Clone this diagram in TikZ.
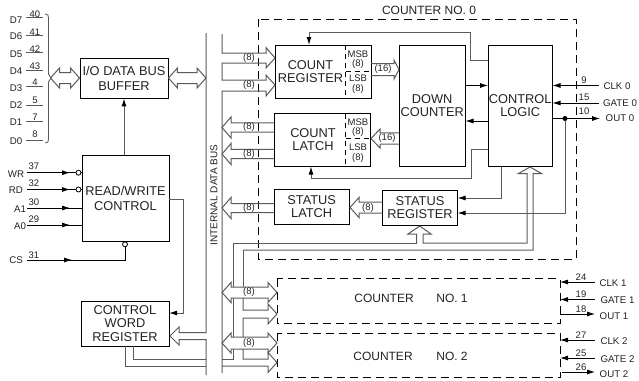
\documentclass[tikz,border=0pt]{standalone}
\usepackage{fontspec}
\setmainfont{Liberation Sans}
\usetikzlibrary{calc,arrows.meta}
\definecolor{busgray}{HTML}{5A5A5A}
\definecolor{ink}{HTML}{222222}
\tikzset{
 blk/.style={draw=black,line width=0.9pt,rectangle,inner sep=0pt,align=center,font=\fontsize{12.8}{13.5}\selectfont,text=ink},
 dbox/.style={draw=black,line width=0.9pt,dash pattern=on 8pt off 5pt},
 inner/.style={draw=black,line width=0.8pt,dash pattern=on 5pt off 4pt},
 bus/.style={draw=busgray,line width=1pt,line join=miter},
 sig/.style={draw=black,line width=0.8pt},
 tip/.style={-{Latex[length=8pt,width=5pt]},shorten >=0pt},
 mid/.style={inner sep=0pt,font=\fontsize{9.5}{10}\selectfont,text=ink},
 wid/.style={inner sep=0pt,font=\fontsize{9.5}{10}\selectfont,text=ink},
 pin/.style={inner sep=0pt,font=\fontsize{9.7}{10}\selectfont,text=ink},
 num/.style={inner sep=0pt,font=\fontsize{9.5}{10}\selectfont,text=ink},
 big/.style={inner sep=0pt,align=center,font=\fontsize{12}{13}\selectfont,text=ink},
 bubble/.style={circle,draw=black,line width=0.8pt,fill=white,inner sep=0pt,minimum size=5pt},
 dotn/.style={circle,fill=black,inner sep=0pt,minimum size=5pt},
}
% hollow arrow: open end #1, tip #2, half body #3, half head #4
\newcommand\holl[4]{%
 \draw[bus] ($(#1)!#3!-90:(#2)$) -- ($($(#2)!9pt!(#1)$)!#3!-90:(#2)$) -- ($($(#2)!9pt!(#1)$)!#4!-90:(#2)$) -- (#2)
  -- ($($(#2)!9pt!(#1)$)!#4!90:(#2)$) -- ($($(#2)!9pt!(#1)$)!#3!90:(#2)$) -- ($(#1)!#3!90:(#2)$);}
% hollow double arrow: tips #1 and #2
\newcommand\hollb[4]{%
 \draw[bus] (#1) -- ($($(#1)!9pt!(#2)$)!#4!90:(#2)$) -- ($($(#1)!9pt!(#2)$)!#3!90:(#2)$)
  -- ($($(#2)!9pt!(#1)$)!#3!-90:(#1)$) -- ($($(#2)!9pt!(#1)$)!#4!-90:(#1)$) -- (#2)
  -- ($($(#2)!9pt!(#1)$)!#4!90:(#1)$) -- ($($(#2)!9pt!(#1)$)!#3!90:(#1)$)
  -- ($($(#1)!9pt!(#2)$)!#3!-90:(#2)$) -- ($($(#1)!9pt!(#2)$)!#4!-90:(#2)$) -- cycle;}
\begin{document}
\begin{tikzpicture}[x=1pt,y=-1pt]
\useasboundingbox (0,0) rectangle (639,380);
% blocks
\node[blk,minimum width=88pt,minimum height=40pt] (iob) at (124,78) {I/O DATA BUS\\[1.5pt]BUFFER};
\node[blk,minimum width=87pt,minimum height=86pt] (rw) at (125.5,198) {READ/WRITE\\[1.5pt]CONTROL};
\node[blk,minimum width=88pt,minimum height=45pt] (cw) at (125,323.5) {CONTROL\\WORD\\REGISTER};
\node[blk,minimum width=96pt,minimum height=53pt,text width=70pt] (cr) at (323,71.5) {};
\node[big,font=\fontsize{12.8}{13.5}\selectfont] at (310.5,71.5) {COUNT\\REGISTER};
\node[blk,minimum width=96.5pt,minimum height=52.5pt] (cl) at (322.3,139.7) {};
\node[big,font=\fontsize{12.8}{13.5}\selectfont] at (313,139.5) {COUNT\\LATCH};
\node[blk,minimum width=66.5pt,minimum height=121pt] (dc) at (432.2,105.5) {DOWN\\COUNTER};
\node[blk,minimum width=64.5pt,minimum height=121.5pt] (cl0) at (520.2,105.7) {CONTROL\\LOGIC};
\node[blk,minimum width=75.5pt,minimum height=35pt] (sl) at (311.7,206.5) {STATUS\\LATCH};
\node[blk,minimum width=75pt,minimum height=34.5pt] (sr) at (420,207.7) {STATUS\\REGISTER};
% dashed frames
\coordinate (f0a) at (258,19); \coordinate (f0b) at (576,259);
\draw[dbox] (f0a) rectangle (f0b);
\node[big] (t0) at (429,10) {COUNTER NO. 0};
\coordinate (f1a) at (277,278.5); \coordinate (f1b) at (560,323.5);
\draw[dbox] (f1a) rectangle (f1b);
\coordinate (f2a) at (277,333); \coordinate (f2b) at (560,377.5);
\draw[dbox] (f2a) rectangle (f2b);
\node[big] (c1) at (384,298) {COUNTER};
\node[big] (n1) at (452,298) {NO. 1};
\node[big] (c2) at (383,356) {COUNTER};
\node[big] (n2) at (452,356) {NO. 2};
% register dividers
\coordinate (d1) at (345.5,45); \coordinate (d2) at (345.5,98); \coordinate (d3) at (345.5,71); \coordinate (d4) at (371,71);
\draw[inner] (d1) -- (d2); \draw[inner] (d3) -- (d4);
\coordinate (e1) at (345.5,113.5); \coordinate (e2) at (345.5,166); \coordinate (e3) at (345.5,138); \coordinate (e4) at (370.5,138);
\draw[inner] (e1) -- (e2); \draw[inner] (e3) -- (e4);
\node[mid] (m1) at (358,54) {MSB}; \node[mid] (m2) at (358,64) {(8)};
\node[mid] (m3) at (358,78.5) {LSB}; \node[mid] (m4) at (358,89) {(8)};
\node[mid] (m5) at (358,122) {MSB}; \node[mid] (m6) at (358,132) {(8)};
\node[mid] (m7) at (358,147) {LSB}; \node[mid] (m8) at (358,158) {(8)};
% data pins
\foreach \n/\lab/\num/\yl/\yn/\yy in {a/D7/40/20/14/17,b/D6/41/36/32/35,c/D5/42/54/49/52,d/D4/43/71/66/70,e/D3/4/88/82/86,f/D2/5/105/100/105,g/D1/7/122/117/121,h/D0/8/141/134/140}{
 \node[pin] (P\n) at (16,\yl) {\lab};
 \node[num] (N\n) at (35,\yn) {\num};
 \coordinate (Pa\n) at (26,\yy); \coordinate (Pb\n) at (43,\yy);
 \draw[sig,draw=busgray] (Pa\n) -- (Pb\n);
}
\coordinate (brt) at (45,14); \coordinate (brb) at (45,143); \coordinate (brm) at (51,78);
\draw[sig,draw=busgray] (brt) .. controls (48,14) and (48.5,15) .. (48.5,18) -- (48.5,74) -- (brm) -- (48.5,82) -- (48.5,139) .. controls (48.5,142) and (48,143) .. (brb);
% I/O buffer arrows
\coordinate (ha) at (50.5,78);
\hollb{ha}{iob.west}{5.5pt}{10pt}
\coordinate (hb) at (206,78);
\hollb{iob.east}{hb}{5.5pt}{10pt}
\draw[bus,-{Latex[length=8pt,width=5pt,black]}] (rw.north -| iob.south) -- (iob.south);
% control pins
\foreach \n/\lab/\num/\yy/\xl in {w/WR/37/172.7/12,r/RD/32/189.5/12,q/A1/30/208/16,p/A0/29/225/16}{
 \node[pin] (L\n) at (\xl+4,\yy+1) {\lab};
 \node[num] (N\n) at (34,\yy-6) {\num};
 \coordinate (S\n) at (27,\yy);
 \coordinate (T\n) at (70,\yy);
 \coordinate (E\n) at (82,\yy);
}
\draw[sig] (Sw) -- (Ew); \draw[sig,tip] (Sw) -- (Tw);
\node[bubble] (bw) at (78.5,172.7) {};
\draw[sig] (Sr) -- (Er); \draw[sig,tip] (Sr) -- (Tr);
\node[bubble] (br) at (78.5,189.5) {};
\draw[sig] (Sq) -- (Eq); \draw[sig,tip] (Sq) -- (Tq);
\draw[sig] (Sp) -- (Ep); \draw[sig,tip] (Sp) -- (Tp);
\node[pin] (Lcs) at (16,260) {CS};
\node[num] (Ncs) at (34,255) {31};
\coordinate (Scs) at (27,260); \coordinate (Tcs) at (72,260); \coordinate (Ccs) at (125,260);
\node[bubble] (bcs) at (125,244.3) {};
\draw[sig] (Scs) -- (Ccs) -- (bcs); \draw[sig,tip] (Scs) -- (Tcs);
% R/W to control word
\coordinate (r1) at (169,199); \coordinate (r2) at (183,199); \coordinate (r3) at (183,313); \coordinate (r4) at (169,313);
\draw[bus,-{Latex[length=8pt,width=5pt,black]}] (r1) -- (r2) -- (r3) -- (r4);
% internal data bus rails
\coordinate (ba) at (206,33); \coordinate (bb) at (206,332.5); \coordinate (bc) at (206,339.5); \coordinate (bd) at (206,375);
\coordinate (bt) at (179,332.5); \coordinate (bu) at (179,339.5); \coordinate (bv) at (170,336);
\draw[bus] (ba) -- (bb) -- (bt) -- (179,327) -- (bv) -- (179,345) -- (bu) -- (bc) -- (bd);
\node[pin,font=\fontsize{10}{10}\selectfont,rotate=90] (idb) at (214,195) {INTERNAL DATA BUS};
% right rail and input arrows
\coordinate (ra) at (222,34); \coordinate (rb) at (222,373);
\coordinate (ia1) at (222,58); \coordinate (ia2) at (275,58);
\coordinate (ib1) at (222,85); \coordinate (ib2) at (275,85);
\draw[bus] (ra) -- (222,53) -- (266,53) -- (266,47.5) -- (ia2) -- (266,68) -- (266,63) -- (222,63) -- (222,80) -- (266,80) -- (266,75) -- (ib2) -- (266,96) -- (266,91) -- (222,91) -- (rb);
\coordinate (oa) at (222,127.5); \coordinate (oaa) at (274,127.5);
\holl{oaa}{oa}{4.7pt}{10.5pt}
\coordinate (ob) at (222,154); \coordinate (obb) at (274,154);
\holl{obb}{ob}{4.7pt}{10.5pt}
\coordinate (oc) at (222,208); \coordinate (occ) at (274,208);
\holl{occ}{oc}{4.5pt}{10.5pt}
\node[wid] at (249,58) {(8)}; \node[wid] at (249,85) {(8)};
\node[wid] at (249,127.5) {(8)}; \node[wid] at (249,154) {(8)};
\node[wid] at (249,208) {(8)}; \node[wid] at (368,208) {(8)};
\node[wid] at (383,69) {(16)}; \node[wid] at (387,138) {(16)};
% 16-bit arrows
\coordinate (x1) at (371,69.5); \coordinate (x2) at (399,69.5);
\draw[bus] (371,63.5) -- (394,63.5) -- (394,60) -- (x2) -- (394,79) -- (394,75.5) -- (371,75.5);
\coordinate (x3) at (371,138.5); \coordinate (x4) at (399,138.5);
\holl{x4}{x3}{5.7pt}{9.5pt}
% status latch arrow
\coordinate (sa) at (382.5,207.5); \coordinate (sb) at (350,207.5);
\holl{sa}{sb}{5.5pt}{10pt}
% feedback lines
\coordinate (g1) at (488,60); \coordinate (g2) at (470,60); \coordinate (g3) at (470,32.5); \coordinate (g4) at (309,32.5); \coordinate (g5) at (309,45);
\draw[bus,-{Latex[length=8pt,width=5pt,black]}] (g1) -- (g2) -- (g3) -- (g4) -- (g5);
\coordinate (h1) at (488,149.5); \coordinate (h2) at (471,149.5); \coordinate (h3) at (471,178); \coordinate (h4) at (311,178); \coordinate (h5) at (311,166.5);
\draw[bus,-{Latex[length=8pt,width=5pt,black]}] (h1) -- (h2) -- (h3) -- (h4) -- (h5);
\coordinate (k1) at (465.5,85.5); \coordinate (k2) at (488,85.5);
\draw[sig,tip] (k1) -- (k2);
\coordinate (k3) at (488,121); \coordinate (k4) at (465.5,121);
\draw[sig,tip] (k3) -- (k4);
% counter 0 pins
\coordinate (c1a) at (599,85.5); \coordinate (c1b) at (552.5,85.5);
\coordinate (c2a) at (599,103); \coordinate (c2b) at (552.5,103);
\coordinate (c3a) at (552.5,118.5); \coordinate (c3b) at (600,118.5);
\draw[sig,tip] (c1a) -- (c1b); \draw[sig,tip] (c2a) -- (c2b); \draw[sig,tip] (c3a) -- (c3b);
\node[num] at (584,80) {9}; \node[num] at (584,97.5) {15}; \node[num] at (584,111.5) {10};
\node[pin] at (617,86) {CLK 0}; \node[pin] at (620,103) {GATE 0}; \node[pin] at (620,118.5) {OUT 0};
\node[dotn] (dot) at (565,118.5) {};
% feedback into status register
\coordinate (q1) at (501,166.5); \coordinate (q2) at (501,198); \coordinate (q3) at (457.5,198);
\draw[bus,-{Latex[length=8pt,width=5pt,black]}] (q1) -- (q2) -- (q3);
\coordinate (q4) at (565,213); \coordinate (q5) at (457.5,213);
\draw[bus,-{Latex[length=8pt,width=5pt,black]}] (dot) -- (q4) -- (q5);
% internal status/control hollow buses
\coordinate (u0) at (233.5,243); \coordinate (u1) at (416.5,243); \coordinate (u2) at (423,243); \coordinate (u3) at (527,243);
\coordinate (v0) at (243,250); \coordinate (v1) at (533,250);
\draw[bus] (u1) -- (u0);
\draw[bus] (u1) -- (416.5,234) -- (408,234) -- (419.7,226) -- (431,234) -- (423,234) -- (u2) -- (u3) -- (527,173.5) -- (518.5,173.5) -- (530,167) -- (541.5,173.5) -- (533,173.5) -- (v1) -- (v0);
% 8-bit double arrows to counters
\coordinate (w1) at (222,292.5); \coordinate (w2) at (277,292.5);
\coordinate (w3) at (222,343); \coordinate (w4) at (277,343);
\hollb{w1}{w2}{5.5pt}{10pt}
\hollb{w3}{w4}{6pt}{10pt}
\node[wid] at (249,292) {(8)}; \node[wid] at (249,343) {(8)};
% verticals and single hollow arrows
\draw[bus] (u0) -- (233.5,287);
\draw[bus] (233.5,298) -- (233.5,337);
\draw[bus] (233.5,349) -- (233.5,359) -- (222,359);
\draw[bus] (v0) -- (243,287);
\draw[bus] (243,298) -- (243,310) -- (268,310) -- (268,304) -- (277,314) -- (268,324) -- (268,318) -- (243,318) -- (243,337);
\draw[bus] (243,349) -- (243,359) -- (268,359) -- (268,352.5) -- (277,362.5) -- (268,372.5) -- (268,366) -- (222,366);
% control word outputs
\coordinate (y1) at (133,346); \coordinate (y2) at (133,359); \coordinate (y3) at (206,359);
\draw[bus] (y1) -- (y2) -- (y3);
\coordinate (z1) at (125,346); \coordinate (z2) at (125,366); \coordinate (z3) at (206,366);
\draw[bus] (z1) -- (z2) -- (z3);
% counter 1 and 2 pins
\foreach \n/\a/\b/\s/\yy/\nm/\lab/\xl in {a/595/560/1/282/24/CLK 1/613,b/595/560/1/299.5/19/GATE 1/617.5,d/595/560/1/340/27/CLK 2/614,e/595/560/1/358/25/GATE 2/617.5}{
 \coordinate (pa\n) at (\a,\yy); \coordinate (pb\n) at (\b,\yy);
 \draw[sig,tip] (pa\n) -- (pb\n);
 \node[num] at (581,\yy-5) {\nm};
 \node[pin] at (\xl,\yy+1) {\lab};
}
\coordinate (o1a) at (560,314); \coordinate (o1b) at (595,314);
\draw[sig,tip] (o1a) -- (o1b);
\node[num] at (581,309.5) {18}; \node[pin] at (614,316) {OUT 1};
\coordinate (o2a) at (562,372); \coordinate (o2b) at (595,372);
\draw[sig,tip] (o2a) -- (o2b);
\node[num] at (581,367) {26}; \node[pin] at (614,374) {OUT 2};
\end{tikzpicture}
\end{document}
